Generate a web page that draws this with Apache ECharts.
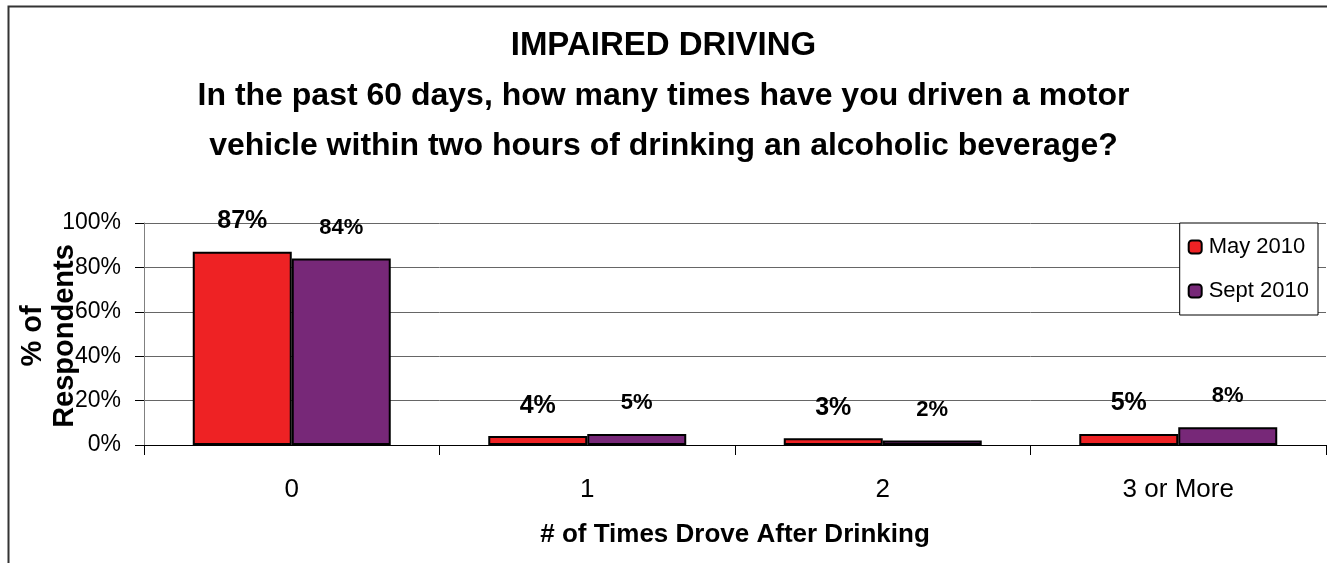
<!DOCTYPE html>
<html>
<head>
<meta charset="utf-8">
<script src="https://cdn.jsdelivr.net/npm/echarts@6/dist/echarts.min.js"></script>
<style>
  html, body { margin: 0; padding: 0; background: #fff; }
  #chart { width: 1327px; height: 563px; }
</style>
</head>
<body>
<div id="chart"></div>
<script>
// Survey answers: times driven within two hours of drinking, past 60 days
const categories = ['0', '1', '2', '3 or More'];
const may2010 = [87, 4, 3, 5];
const sept2010 = [84, 5, 2, 8];
const seriesNames = ['May 2010', 'Sept 2010'];
const yTicks = [0, 20, 40, 60, 80, 100];

const FONT = 'Liberation Sans, Arial, sans-serif';
const chart = echarts.init(document.getElementById('chart'));

chart.setOption({
  animation: false,
  backgroundColor: '#fff',
  textStyle: { fontFamily: FONT, color: '#000' },
  title: {
    text: '{h|IMPAIRED DRIVING}\n{q|In the past 60 days, how many times have you driven a motor}\n{q|vehicle within two hours of drinking an alcoholic beverage?}',
    left: 'center',
    top: 16,
    textStyle: {
      fontFamily: FONT, fontWeight: 'bold', color: '#000',
      rich: {
        h: { fontFamily: FONT, fontSize: 33, fontWeight: 'bold', lineHeight: 50, color: '#000' },
        q: { fontFamily: FONT, fontSize: 32, fontWeight: 'bold', lineHeight: 50, color: '#000' }
      }
    }
  },
  legend: {
    data: seriesNames,
    orient: 'vertical',
    right: 9,
    top: 223,
    itemWidth: 13,
    itemHeight: 13,
    itemGap: 22,
    padding: [13, 9, 13, 8],
    backgroundColor: '#fff',
    borderColor: '#000',
    borderWidth: 1,
    textStyle: { fontFamily: FONT, fontSize: 22, color: '#000', padding: [0, 0, 0, 2] }
  },
  grid: { left: 144, right: 1, top: 223, bottom: 118, containLabel: false },
  xAxis: {
    type: 'category',
    data: categories,
    name: '# of Times Drove After Drinking',
    nameLocation: 'middle',
    nameGap: 77,
    nameTextStyle: { fontFamily: FONT, fontSize: 26, fontWeight: 'bold', color: '#000' },
    axisLine: { lineStyle: { color: '#000', width: 1 } },
    axisTick: { show: true, alignWithLabel: false, length: 10, lineStyle: { color: '#000' } },
    axisLabel: { fontFamily: FONT, fontSize: 26, color: '#000', margin: 32 }
  },
  yAxis: {
    type: 'value',
    min: yTicks[0],
    max: yTicks[yTicks.length - 1],
    interval: 20,
    axisLine: { show: true, lineStyle: { color: '#808080', width: 1 } },
    axisTick: { show: true, length: 9, lineStyle: { color: '#000' } },
    axisLabel: { fontFamily: FONT, fontSize: 23, color: '#000', margin: 23, formatter: v => v + '%' },
    splitLine: { show: true, lineStyle: { color: '#666', width: 1 } }
  },
  series: [
    {
      name: seriesNames[0],
      type: 'bar',
      data: may2010,
      barGap: '0%',
      barCategoryGap: '33%',
      itemStyle: { color: '#EE2224', borderColor: '#000', borderWidth: 2 },
      label: {
        show: true, position: 'top', distance: 18,
        formatter: p => p.value + '%',
        fontFamily: FONT, fontSize: 25, fontWeight: 'bold', color: '#000'
      }
    },
    {
      name: seriesNames[1],
      type: 'bar',
      data: sept2010,
      itemStyle: { color: '#772878', borderColor: '#000', borderWidth: 2 },
      label: {
        show: true, position: 'top', distance: 20,
        formatter: p => p.value + '%',
        fontFamily: FONT, fontSize: 22, fontWeight: 'bold', color: '#000'
      }
    }
  ],
  graphic: [
    {
      type: 'rect',
      left: 6, top: 4,
      shape: { width: 1340, height: 580 },
      style: { fill: 'none', stroke: '#333', lineWidth: 2 },
      silent: true,
      z: -1
    },
    {
      // y-axis title, rotated, two lines
      type: 'text',
      x: 49, y: 336,
      rotation: Math.PI / 2,
      style: {
        text: '% of\nRespondents',
        fontFamily: FONT, fontSize: 29, fontWeight: 'bold', fill: '#000',
        lineHeight: 32,
        align: 'center', verticalAlign: 'middle'
      },
      z: 10
    }
  ]
});
</script>
</body>
</html>
